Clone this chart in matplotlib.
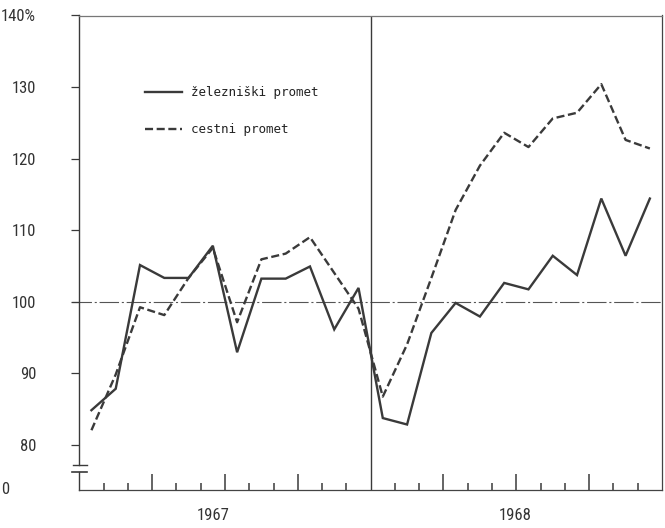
import matplotlib
matplotlib.use("Agg")
import matplotlib.pyplot as plt
from matplotlib import font_manager as fm

# ---- data ----
months = list(range(24))  # Jan 1967 .. Dec 1968
zeleznicki = [84.8, 87.8, 105.1, 103.3, 103.3, 107.8, 92.9, 103.2, 103.2, 104.9, 96.1, 101.9,
              83.7, 82.8, 95.6, 99.8, 97.9, 102.6, 101.7, 106.4, 103.7, 114.4, 106.4, 114.4]
cestni = [82.0, 89.8, 99.2, 98.1, 103.3, 107.5, 97.1, 105.9, 106.7, 109.0, 104.0, 99.0,
          86.7, 94.0, 103.3, 112.8, 119.0, 123.6, 121.6, 125.6, 126.4, 130.4, 122.6, 121.4]
series_labels = ["železniški promet", "cestni promet"]
ytick_vals = [80, 90, 100, 110, 120, 130, 140]
ytick_labels = ["80", "90", "100", "110", "120", "130", "140%"]
years = ["1967", "1968"]

plt.rcParams['lines.scale_dashes'] = False
installed = {f.name for f in fm.fontManager.ttflist}
narrow = None
for cand in ['Liberation Sans Narrow', 'DejaVu Sans Condensed', 'Roboto Condensed', 'Open Sans Condensed']:
    if cand in installed:
        narrow = cand
        break
if narrow is None:
    num_prop = fm.FontProperties(family='DejaVu Sans', stretch='condensed', size=11)
else:
    num_prop = fm.FontProperties(family=narrow, size=12)
mono_font = ['DejaVu Sans Mono']
ink = '#3a3a3a'
txt = '#333333'

fig = plt.figure(figsize=(6.65, 5.28), dpi=100, facecolor='white')
W, H = 665, 528
ax_l, ax_r, ax_t, ax_b = 79.3, 662, 15.5, 490
ax = fig.add_axes([ax_l / W, 1 - ax_b / H, (ax_r - ax_l) / W, (ax_b - ax_t) / H])

ymin, ymax = 73.64, 140
ax.set_xlim(0, 24)
ax.set_ylim(ymin, ymax)

xs = [m + 0.5 for m in months]
ax.plot(xs, zeleznicki, color=ink, lw=1.7, solid_joinstyle='miter', label=series_labels[0], zorder=3)
ax.plot(xs, cestni, color=ink, lw=1.7, linestyle=(0, (5.8, 2.6)), label=series_labels[1], zorder=3)

# reference line at 100
ax.axhline(100, xmin=-0.012, xmax=1, color='#555555', lw=0.8,
           linestyle=(0, (14, 2, 1.5, 2)), clip_on=False, zorder=1)
# year divider
ax.axvline(12, color=ink, lw=1.0, zorder=2)

# spines
for s in ['top', 'right', 'bottom']:
    ax.spines[s].set_linewidth(0.9)
    ax.spines[s].set_color('#444444')
ax.spines['top'].set_color('#777777')
ax.spines['left'].set_visible(False)

# broken left axis
brk_hi, brk_lo = 77.13, 76.15
yt = ax.get_yaxis_transform()
ax.plot([0, 0], [brk_hi, ymax], color=ink, lw=1.0, transform=yt, clip_on=False)
ax.plot([0, 0], [ymin, brk_lo], color=ink, lw=1.0, transform=yt, clip_on=False)
ax.plot([-0.011, 0.013], [brk_hi, brk_hi], color=ink, lw=1.0, transform=yt, clip_on=False)
ax.plot([-0.012, 0.013], [brk_lo, brk_lo], color=ink, lw=1.2, transform=yt, clip_on=False)

# y ticks
ax.set_yticks(ytick_vals)
ax.set_yticklabels(ytick_labels, fontproperties=num_prop, color=txt)
ax.tick_params(axis='y', direction='out', length=6, width=0.9, color=ink, pad=25)
ax.text(-0.134, ymin, "0", transform=yt, ha='left', va='center',
        fontproperties=num_prop, color=txt)

# x ticks: month boundaries, longer at quarters
minor = [m for m in range(1, 24) if m % 3 != 0]
major = [m for m in range(1, 24) if m % 3 == 0 and m != 12]
ax.set_xticks(major)
ax.set_xticks(minor, minor=True)
ax.tick_params(axis='x', which='major', direction='in', length=11.5, width=1.1, color=ink, labelbottom=False)
ax.tick_params(axis='x', which='minor', direction='in', length=5, width=1.1, color=ink, labelbottom=False)

xt = ax.get_xaxis_transform()
ax.text(5.5, -0.053, years[0], transform=xt, ha='center', va='center',
        fontproperties=num_prop, color=txt)
ax.text(17.95, -0.053, years[1], transform=xt, ha='center', va='center',
        fontproperties=num_prop, color=txt)

# legend
leg = ax.legend(loc='upper left', bbox_to_anchor=(0.112, 0.851), frameon=False,
                handlelength=3.0, handletextpad=0.7, labelspacing=1.9,
                borderpad=0, borderaxespad=0,
                prop={'family': mono_font, 'size': 9})
for t in leg.get_texts():
    t.set_color('#222222')

fig.savefig("out.png", dpi=100, facecolor='white')
